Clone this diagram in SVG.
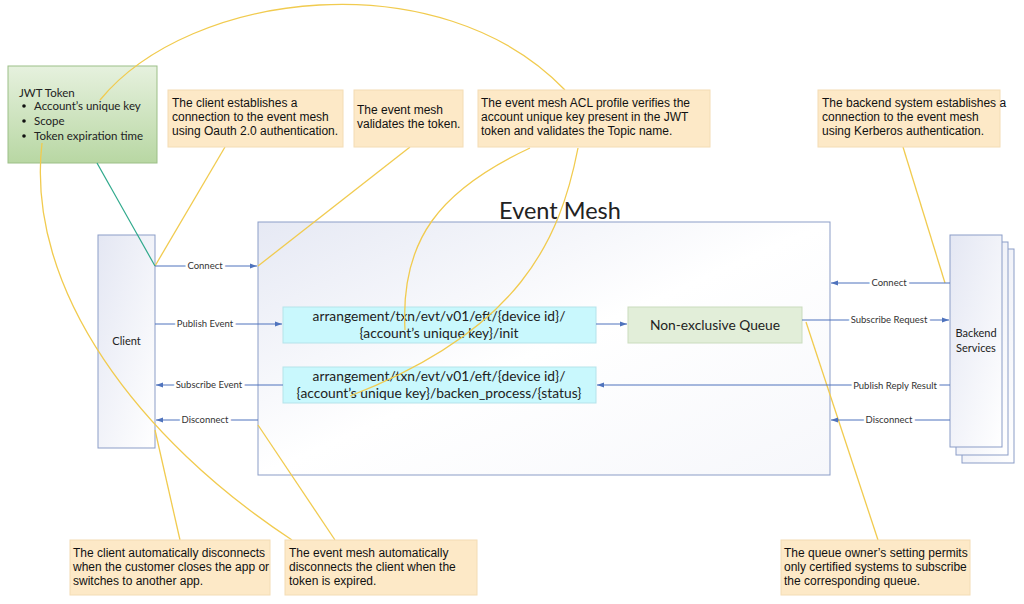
<svg xmlns="http://www.w3.org/2000/svg" width="1024" height="604" viewBox="0 0 1024 604">
<style>
.note{fill:#fde9c7;stroke:#f3dcb4;stroke-width:1}
.nt{font-family:"Liberation Sans",Arial,sans-serif;font-size:12px;fill:#111}
.cal{font-family:Lato,"Open Sans",sans-serif;fill:#222}
.lbl{font-family:Lato,"Open Sans",sans-serif;font-size:9.5px;fill:#333;text-anchor:middle;paint-order:stroke;stroke:#fff;stroke-width:5px}
.ar{stroke:#4f73bd;stroke-width:1;fill:none}
.yl{stroke:#f1cb4f;stroke-width:1.3;fill:none}
.topic{fill:#c9f8fd;stroke:#b5e3ea;stroke-width:1}
.tt{font-family:Lato,"Open Sans",sans-serif;font-size:13.8px;fill:#222;text-anchor:middle}
.sys{fill:url(#sysg);stroke:#8b9dc7;stroke-width:1}
</style>
<defs>
<linearGradient id="jwtg" x1="0" y1="0" x2="0" y2="1"><stop offset="0" stop-color="#e6f1de"/><stop offset="1" stop-color="#b8d7a3"/></linearGradient>
<linearGradient id="sysg" x1="0" y1="0" x2="1" y2="1"><stop offset="0" stop-color="#e4e7f3"/><stop offset="1" stop-color="#ffffff"/></linearGradient>
<linearGradient id="meshg" x1="0" y1="0" x2="1" y2="1"><stop offset="0" stop-color="#e6e9f4"/><stop offset="0.5" stop-color="#ffffff"/><stop offset="1" stop-color="#f6f7fb"/></linearGradient>
<marker id="ah" viewBox="0 0 10 10" refX="10" refY="5" markerWidth="7" markerHeight="7" orient="auto"><path d="M0,1.5 L10,5 L0,8.5 z" fill="#4f73bd"/></marker>
</defs>
<rect width="1024" height="604" fill="#fff"/>

<g id="event-mesh">
<rect x="258" y="222" width="572" height="253" fill="url(#meshg)" stroke="#8b9dc7"/>
<text x="560" y="219" class="cal" font-size="23.5" text-anchor="middle">Event Mesh</text>
</g>

<g id="client">
<rect x="98" y="235" width="57" height="213" class="sys"/>
<text x="126.5" y="345" class="cal" font-size="11" text-anchor="middle">Client</text>
</g>

<g id="backend">
<rect x="962" y="249" width="52" height="214" class="sys"/>
<rect x="956" y="242" width="52" height="213" class="sys"/>
<rect x="950" y="235" width="52" height="212" class="sys"/>
<text x="976" y="337" class="cal" font-size="11" text-anchor="middle">Backend</text>
<text x="976" y="352" class="cal" font-size="11" text-anchor="middle">Services</text>
</g>

<g id="topic-init">
<rect x="283" y="307" width="313" height="36" class="topic"/>
<text x="439" y="321" class="tt">arrangement/txn/evt/v01/eft/{device id}/</text>
<text x="439" y="338" class="tt">{account’s unique key}/init</text>
</g>

<g id="topic-status">
<rect x="283" y="367" width="313" height="36" class="topic"/>
<text x="439" y="381" class="tt">arrangement/txn/evt/v01/eft/{device id}/</text>
<text x="439" y="398" class="tt">{account’s unique key}/backen_process/{status}</text>
</g>

<g id="queue">
<rect x="628" y="307" width="174" height="36" fill="#e2eed9" stroke="#cadcbd"/>
<text x="715" y="330" class="tt">Non-exclusive Queue</text>
</g>

<g id="jwt">
<rect x="8" y="66" width="149" height="97" fill="url(#jwtg)" stroke="#9cbf87"/>
<text x="19" y="97" class="cal" font-size="11.5">JWT Token</text>
<g class="cal" font-size="11.5">
<circle cx="24" cy="106" r="1.8" fill="#111"/><text x="34" y="110">Account’s unique key</text>
<circle cx="24" cy="121" r="1.8" fill="#111"/><text x="34" y="125">Scope</text>
<circle cx="24" cy="136" r="1.8" fill="#111"/><text x="34" y="140">Token expiration time</text>
</g>
</g>

<g id="connectors">
<path class="yl" d="M100,100 C190,-10 440,-40 565,90"/>
<path class="yl" d="M42,143 C25,290 140,440 292,540"/>
<path class="yl" d="M225,147 L155,266"/>
<path class="yl" d="M410,147 L258,266"/>
<path class="yl" d="M530,148 C440,190 400,240 405,330"/>
<path class="yl" d="M578,148 C560,240 520,330 350,396"/>
<path class="yl" d="M903,147 L945,283"/>
<path class="yl" d="M806,322 L878,540"/>
<path class="yl" d="M155,430 L180,540"/>
<path class="yl" d="M258,425 L335,540"/>
<path d="M97,163 L155,266" stroke="#2fa98c" stroke-width="1.2" fill="none"/>

<path class="ar" d="M155,266 H257" marker-end="url(#ah)"/>
<path class="ar" d="M155,324 H282" marker-end="url(#ah)"/>
<path class="ar" d="M283,385 H156" marker-end="url(#ah)"/>
<path class="ar" d="M258,420 H156" marker-end="url(#ah)"/>
<path class="ar" d="M596,324 H627" marker-end="url(#ah)"/>
<path class="ar" d="M802,320 H949" marker-end="url(#ah)"/>
<path class="ar" d="M950,283 H831" marker-end="url(#ah)"/>
<path class="ar" d="M950,385 H597" marker-end="url(#ah)"/>
<path class="ar" d="M950,420 H831" marker-end="url(#ah)"/>
<text x="205" y="269" class="lbl">Connect</text>
<text x="205" y="327" class="lbl">Publish Event</text>
<text x="209" y="388" class="lbl">Subscribe Event</text>
<text x="205" y="423" class="lbl">Disconnect</text>
<text x="889" y="323" class="lbl">Subscribe Request</text>
<text x="889" y="286" class="lbl">Connect</text>
<text x="895" y="389" class="lbl">Publish Reply Result</text>
<text x="889" y="423" class="lbl">Disconnect</text>
</g>

<g id="note-client-connect">
<rect x="168" y="90" width="175" height="57" class="note"/>
<text class="nt" x="172" y="107">The client establishes a</text>
<text class="nt" x="172" y="121">connection to the event mesh</text>
<text class="nt" x="172" y="135">using Oauth 2.0 authentication.</text>
</g>
<g id="note-validate">
<rect x="354" y="90" width="109" height="57" class="note"/>
<text class="nt" x="357" y="114">The event mesh</text>
<text class="nt" x="357" y="128">validates the token.</text>
</g>
<g id="note-acl">
<rect x="478" y="90" width="232" height="57" class="note"/>
<text class="nt" x="481" y="107">The event mesh ACL profile verifies the</text>
<text class="nt" x="481" y="121">account unique key present in the JWT</text>
<text class="nt" x="481" y="135">token and validates the Topic name.</text>
</g>
<g id="note-backend">
<rect x="818" y="90" width="182" height="57" class="note"/>
<text class="nt" x="822" y="107">The backend system establishes a</text>
<text class="nt" x="822" y="121">connection to the event mesh</text>
<text class="nt" x="822" y="135">using Kerberos authentication.</text>
</g>
<g id="note-client-disconnect">
<rect x="70" y="540" width="200" height="55" class="note"/>
<text class="nt" x="73" y="557">The client automatically disconnects</text>
<text class="nt" x="73" y="571">when the customer closes the app or</text>
<text class="nt" x="73" y="585">switches to another app.</text>
</g>
<g id="note-mesh-disconnect">
<rect x="285" y="540" width="192" height="55" class="note"/>
<text class="nt" x="289" y="557">The event mesh automatically</text>
<text class="nt" x="289" y="571">disconnects the client when the</text>
<text class="nt" x="289" y="585">token is expired.</text>
</g>
<g id="note-queue">
<rect x="781" y="540" width="189" height="55" class="note"/>
<text class="nt" x="784" y="557">The queue owner’s setting permits</text>
<text class="nt" x="784" y="571">only certified systems to subscribe</text>
<text class="nt" x="784" y="585">the corresponding queue.</text>
</g>
</svg>
